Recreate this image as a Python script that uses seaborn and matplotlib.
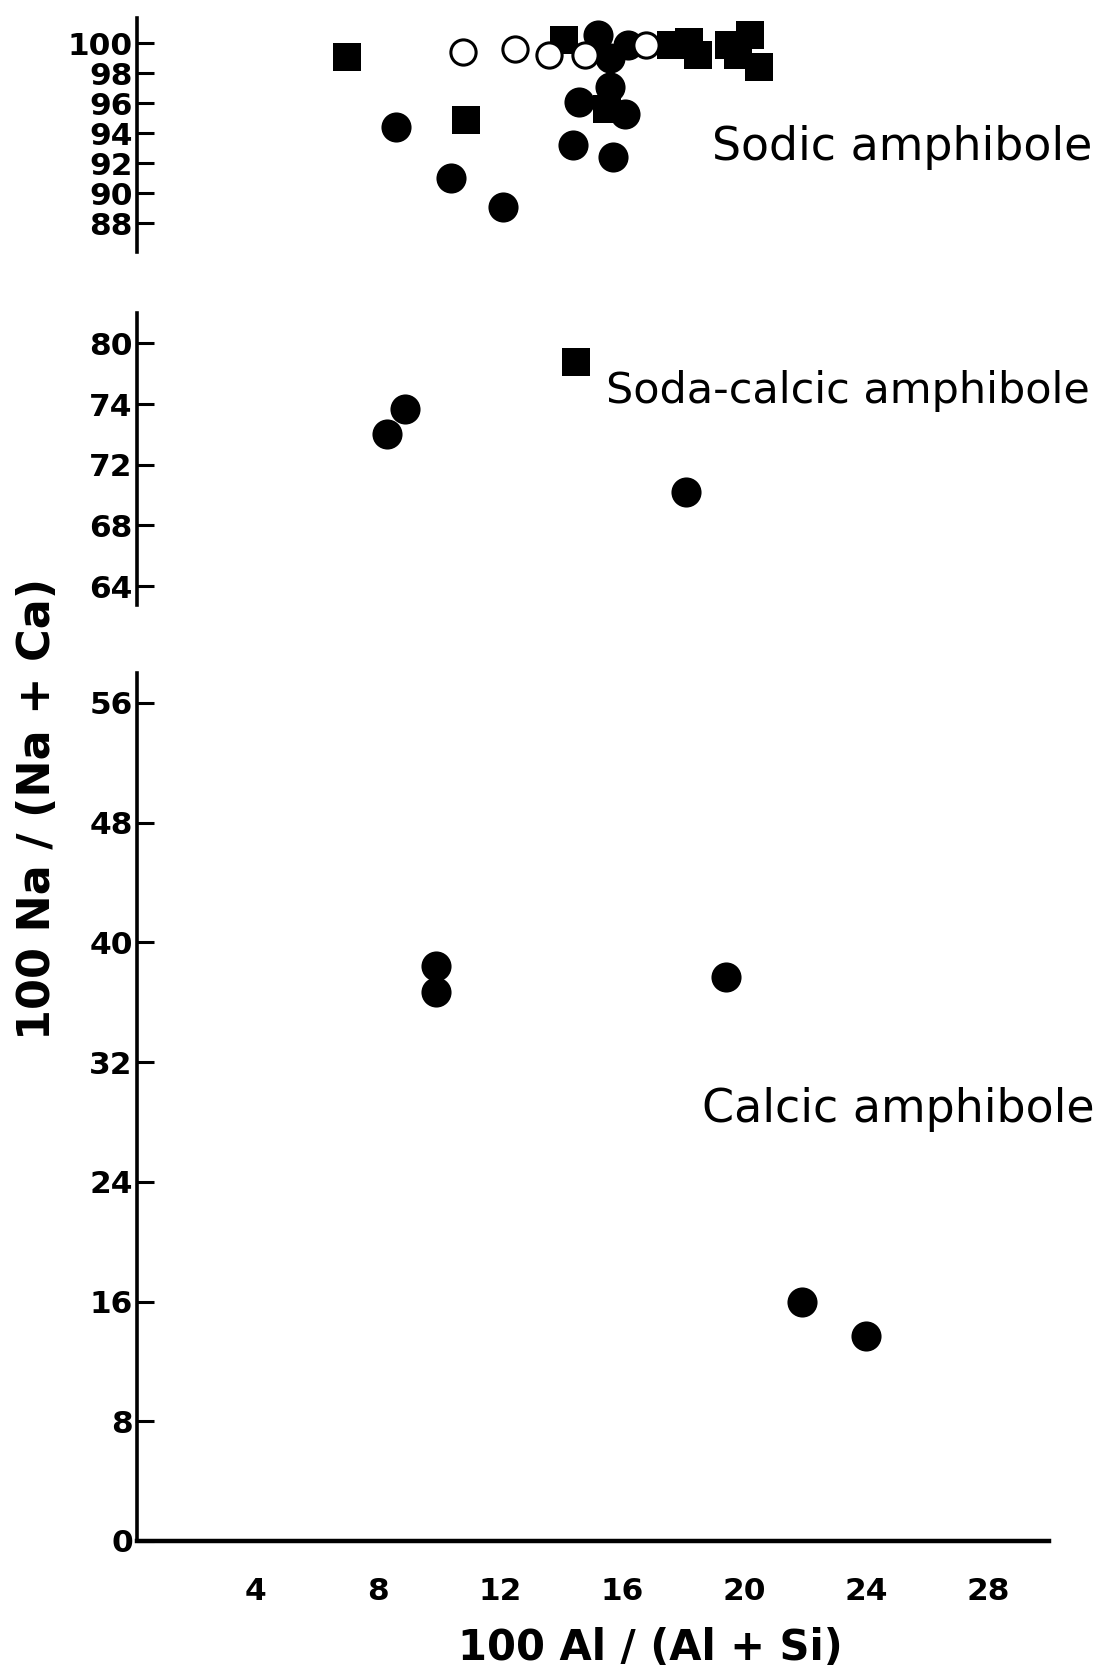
import matplotlib
matplotlib.use("Agg")
import matplotlib.pyplot as plt
import seaborn as sns
import pandas as pd

sns.set_style("white")
plt.rcParams['font.family'] = ['DejaVu Sans']
plt.rcParams['text.color'] = 'black'
plt.rcParams['axes.labelcolor'] = 'black'

# ---------------- data ----------------
# Sodic amphibole panel
sodic_filled_x = [8.6, 10.4, 12.1, 14.4, 14.6, 15.2, 15.6, 15.6, 16.1, 16.2, 15.7]
sodic_filled_y = [94.4, 91.0, 89.1, 93.2, 96.1, 100.6, 99.0, 97.1, 95.3, 99.9, 92.4]
sodic_square_x = [7.0, 10.9, 14.1, 15.5, 17.6, 18.2, 18.5, 19.5, 19.8, 20.2, 20.5]
sodic_square_y = [99.1, 94.9, 100.2, 95.6, 99.9, 100.1, 99.2, 99.9, 99.2, 100.6, 98.4]
sodic_open_x = [10.8, 12.5, 13.6, 14.8, 16.8]
sodic_open_y = [99.4, 99.6, 99.2, 99.2, 99.9]

# Soda-calcic amphibole panel (axis positions)
sodacalcic_filled_x = [8.9, 8.3, 18.1]
sodacalcic_filled_y = [75.7, 74.0, 70.2]
sodacalcic_square_x = [14.5]
sodacalcic_square_y = [78.8]

# Calcic amphibole panel
calcic_filled_x = [9.9, 9.9, 19.4, 21.9, 24.0]
calcic_filled_y = [38.4, 36.7, 37.7, 16.0, 13.7]

x_ticks = [4, 8, 12, 16, 20, 24, 28]
top_ticks = [88, 90, 92, 94, 96, 98, 100]
mid_ticks = [64, 68, 72, 76, 80]
mid_tick_labels = ["64", "68", "72", "74", "80"]
bot_ticks = [0, 8, 16, 24, 32, 40, 48, 56]

# ---------------- figure ----------------
W_PX, H_PX = 1103, 1670
fig = plt.figure(figsize=(W_PX / 100, H_PX / 100), dpi=100)

L, W = 137 / W_PX, (1049 - 137) / W_PX
def box(top_px, bot_px):
    return [L, 1 - bot_px / H_PX, W, (bot_px - top_px) / H_PX]

ax_top = fig.add_axes(box(18, 252))
ax_mid = fig.add_axes(box(313, 605))
ax_bot = fig.add_axes(box(673, 1541))

S_CIRCLE, S_SQUARE, S_OPEN = 470, 380, 330

def draw(ax, fx, fy, sx=None, sy=None, ox=None, oy=None):
    if fx:
        sns.scatterplot(x=fx, y=fy, ax=ax, marker='o', s=S_CIRCLE, color='black',
                        linewidth=0, zorder=3)
    if sx:
        sns.scatterplot(x=sx, y=sy, ax=ax, marker='s', s=S_SQUARE, color='black',
                        linewidth=0, zorder=3)
    if ox:
        sns.scatterplot(x=ox, y=oy, ax=ax, marker='o', s=S_OPEN, facecolor='white',
                        edgecolor='black', linewidth=2.2, zorder=4)

draw(ax_top, sodic_filled_x, sodic_filled_y, sodic_square_x, sodic_square_y,
     sodic_open_x, sodic_open_y)
draw(ax_mid, sodacalcic_filled_x, sodacalcic_filled_y, sodacalcic_square_x, sodacalcic_square_y)
draw(ax_bot, calcic_filled_x, calcic_filled_y)

XLIM = (0.1, 30.0)
ax_top.set_ylim(86.1, 101.7)
ax_mid.set_ylim(62.75, 82.0)
ax_bot.set_ylim(0, 58)

TICK_FS = 22.5
for ax in (ax_top, ax_mid, ax_bot):
    ax.set_xlim(*XLIM)
    ax.set_xlabel("")
    ax.set_ylabel("")
    ax.spines['top'].set_visible(False)
    ax.spines['right'].set_visible(False)
    ax.spines['left'].set_linewidth(2.6)
    ax.spines['left'].set_color('black')
    ax.tick_params(axis='y', direction='in', length=12, width=2.2, pad=3,
                   colors='black', labelsize=TICK_FS, left=True)
    ax.patch.set_alpha(0)

for ax in (ax_top, ax_mid):
    ax.spines['bottom'].set_visible(False)
    ax.set_xticks([])

ax_top.set_yticks(top_ticks)
ax_top.set_yticklabels([str(t) for t in top_ticks], fontweight='bold')
ax_mid.set_yticks(mid_ticks)
ax_mid.set_yticklabels(mid_tick_labels, fontweight='bold')
ax_bot.set_yticks(bot_ticks)
ax_bot.set_yticklabels([str(t) for t in bot_ticks], fontweight='bold')

ax_bot.spines['bottom'].set_linewidth(3.2)
ax_bot.spines['bottom'].set_color('black')
ax_bot.set_xticks(x_ticks)
ax_bot.set_xticklabels([str(t) for t in x_ticks], fontweight='bold')
ax_bot.tick_params(axis='x', length=0, pad=26, labelsize=TICK_FS, colors='black', bottom=True)

# axis titles
fig.text(650 / W_PX, 1 - 1648 / H_PX, "100 Al / (Al + Si)", ha='center', va='center',
         fontsize=30, fontweight='bold')
fig.text(38 / W_PX, 1 - 809 / H_PX, "100 Na / (Na + Ca)", ha='center', va='center',
         rotation=90, fontsize=32, fontweight='bold')

# field labels
fig.text(1092 / W_PX, 1 - 147 / H_PX, "Sodic amphibole", ha='right', va='center', fontsize=33)
fig.text(1090 / W_PX, 1 - 391 / H_PX, "Soda-calcic amphibole", ha='right', va='center', fontsize=31)
fig.text(1095 / W_PX, 1 - 1110 / H_PX, "Calcic amphibole", ha='right', va='center', fontsize=33)

fig.savefig("out.png", dpi=100, facecolor='white')
